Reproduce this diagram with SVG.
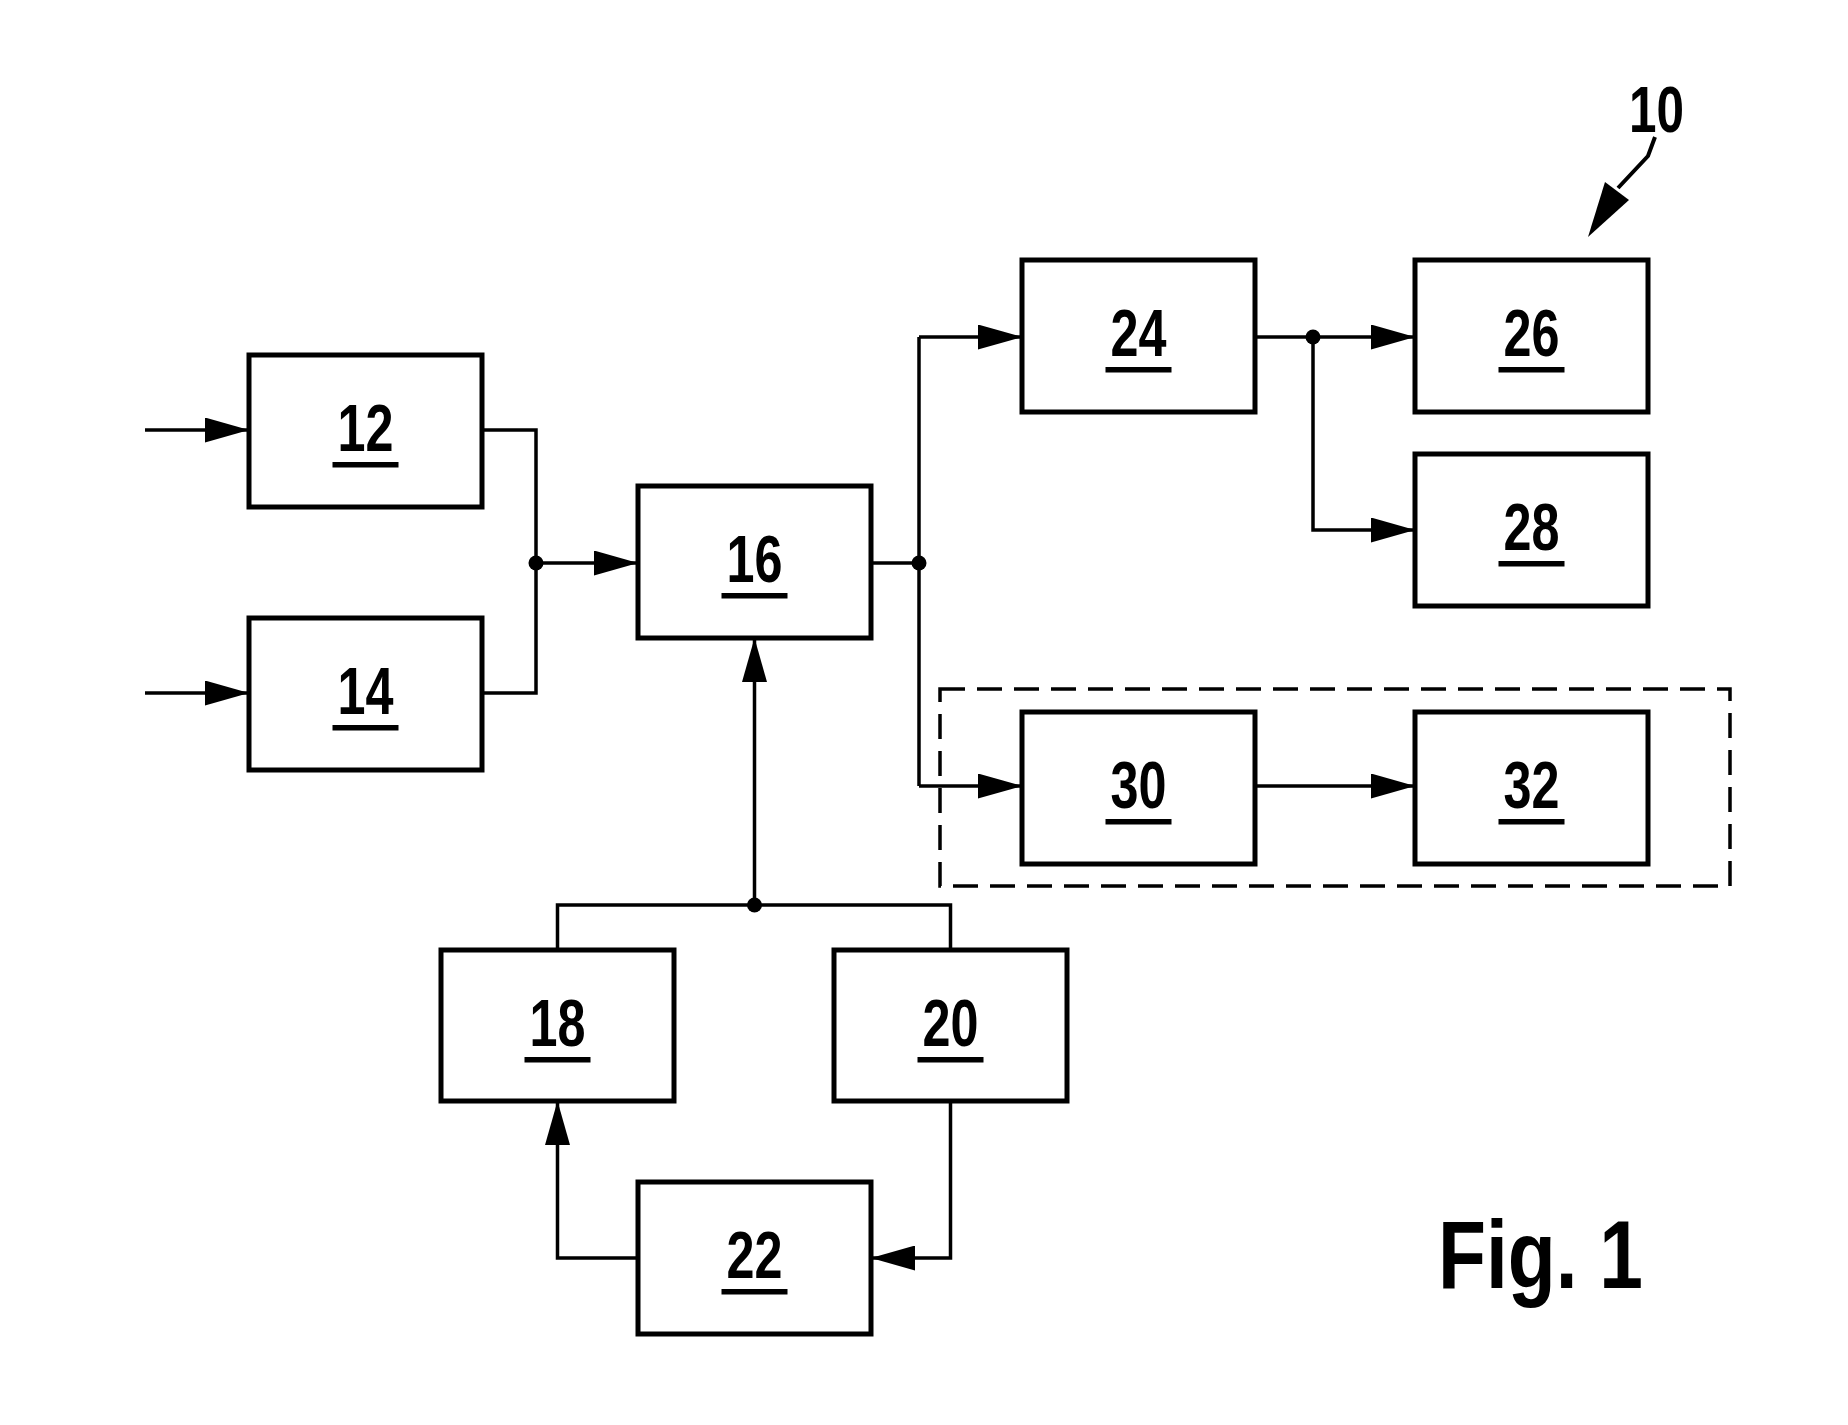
<svg xmlns="http://www.w3.org/2000/svg" width="1848" height="1425" viewBox="0 0 1848 1425">
<style>
.box{fill:none;stroke:#000;stroke-width:5}
.ln{fill:none;stroke:#000;stroke-width:3.5}
.arr{marker-end:url(#ah)}
.lbl{font-family:"Liberation Sans",Arial,sans-serif;font-weight:bold;font-size:67px;text-anchor:middle;fill:#000}
.ul{fill:#000}
.dot{fill:#000}
.dash{fill:none;stroke:#000;stroke-width:3.5;stroke-dasharray:25 12}
</style>
<defs>
<marker id="ah" viewBox="0 0 44 25" refX="44" refY="12.5" markerWidth="44" markerHeight="25" markerUnits="userSpaceOnUse" orient="auto">
<path d="M0,0 L44,12.5 L0,25 Z" fill="#000"/>
</marker>
</defs>
<rect width="1848" height="1425" fill="#fff"/>
<g id="connectors">
<path class="ln arr" d="M145,430 H249"/>
<path class="ln arr" d="M145,693 H249"/>
<path class="ln" d="M482,430 H536 V693 H482"/>
<path class="ln arr" d="M536,563 H638"/>
<path class="ln" d="M871,563 H919"/>
<path class="ln" d="M919,337 V786"/>
<path class="ln arr" d="M919,337 H1022"/>
<path class="ln arr" d="M919,786 H1022"/>
<path class="ln arr" d="M1255,337 H1415"/>
<path class="ln arr" d="M1313,337 V530 H1415"/>
<path class="ln arr" d="M1255,786 H1415"/>
<path class="ln arr" d="M754.5,905 V638"/>
<path class="ln" d="M557.5,950 V905 H950.5 V950"/>
<path class="ln arr" d="M950.5,1101 V1258 H871"/>
<path class="ln arr" d="M638,1258 H557.5 V1101"/>
<circle class="dot" cx="536" cy="563" r="7.5"/>
<circle class="dot" cx="919" cy="563" r="7.5"/>
<circle class="dot" cx="1313" cy="337" r="7.5"/>
<circle class="dot" cx="754.5" cy="905" r="7.5"/>
</g>
<g id="group-dashed">
<rect class="dash" x="940" y="689" width="790" height="197"/>
</g>
<g id="n12"><rect class="box" x="249" y="355" width="233" height="152"/><text class="lbl" x="365.5" y="451" textLength="56" lengthAdjust="spacingAndGlyphs">12</text><rect class="ul" x="332.5" y="462" width="66" height="5.5"/></g>
<g id="n14"><rect class="box" x="249" y="618" width="233" height="152"/><text class="lbl" x="365.5" y="714" textLength="56" lengthAdjust="spacingAndGlyphs">14</text><rect class="ul" x="332.5" y="725" width="66" height="5.5"/></g>
<g id="n16"><rect class="box" x="638" y="486" width="233" height="152"/><text class="lbl" x="754.5" y="582" textLength="56" lengthAdjust="spacingAndGlyphs">16</text><rect class="ul" x="721.5" y="593" width="66" height="5.5"/></g>
<g id="n18"><rect class="box" x="441" y="950" width="233" height="151"/><text class="lbl" x="557.5" y="1046" textLength="56" lengthAdjust="spacingAndGlyphs">18</text><rect class="ul" x="524.5" y="1057" width="66" height="5.5"/></g>
<g id="n20"><rect class="box" x="834" y="950" width="233" height="151"/><text class="lbl" x="950.5" y="1046" textLength="56" lengthAdjust="spacingAndGlyphs">20</text><rect class="ul" x="917.5" y="1057" width="66" height="5.5"/></g>
<g id="n22"><rect class="box" x="638" y="1182" width="233" height="152"/><text class="lbl" x="754.5" y="1278" textLength="56" lengthAdjust="spacingAndGlyphs">22</text><rect class="ul" x="721.5" y="1289" width="66" height="5.5"/></g>
<g id="n24"><rect class="box" x="1022" y="260" width="233" height="152"/><text class="lbl" x="1138.5" y="356" textLength="56" lengthAdjust="spacingAndGlyphs">24</text><rect class="ul" x="1105.5" y="367" width="66" height="5.5"/></g>
<g id="n26"><rect class="box" x="1415" y="260" width="233" height="152"/><text class="lbl" x="1531.5" y="356" textLength="56" lengthAdjust="spacingAndGlyphs">26</text><rect class="ul" x="1498.5" y="367" width="66" height="5.5"/></g>
<g id="n28"><rect class="box" x="1415" y="454" width="233" height="152"/><text class="lbl" x="1531.5" y="550" textLength="56" lengthAdjust="spacingAndGlyphs">28</text><rect class="ul" x="1498.5" y="561" width="66" height="5.5"/></g>
<g id="n30"><rect class="box" x="1022" y="712" width="233" height="152"/><text class="lbl" x="1138.5" y="808" textLength="56" lengthAdjust="spacingAndGlyphs">30</text><rect class="ul" x="1105.5" y="819" width="66" height="5.5"/></g>
<g id="n32"><rect class="box" x="1415" y="712" width="233" height="152"/><text class="lbl" x="1531.5" y="808" textLength="56" lengthAdjust="spacingAndGlyphs">32</text><rect class="ul" x="1498.5" y="819" width="66" height="5.5"/></g>
<g id="ref10">
<text x="1656.5" y="132" font-family="Liberation Sans, Arial, sans-serif" font-weight="bold" font-size="64" text-anchor="middle" textLength="55" lengthAdjust="spacingAndGlyphs">10</text>
<path d="M1655,137 L1648,156 L1618,188" fill="none" stroke="#000" stroke-width="4"/>
<path d="M1605,182 L1629,200 L1588,237 Z" fill="#000"/>
</g>
<g id="caption">
<text x="1438" y="1288" font-family="Liberation Sans, Arial, sans-serif" font-weight="bold" font-size="97" textLength="205" lengthAdjust="spacingAndGlyphs">Fig. 1</text>
</g>
</svg>
